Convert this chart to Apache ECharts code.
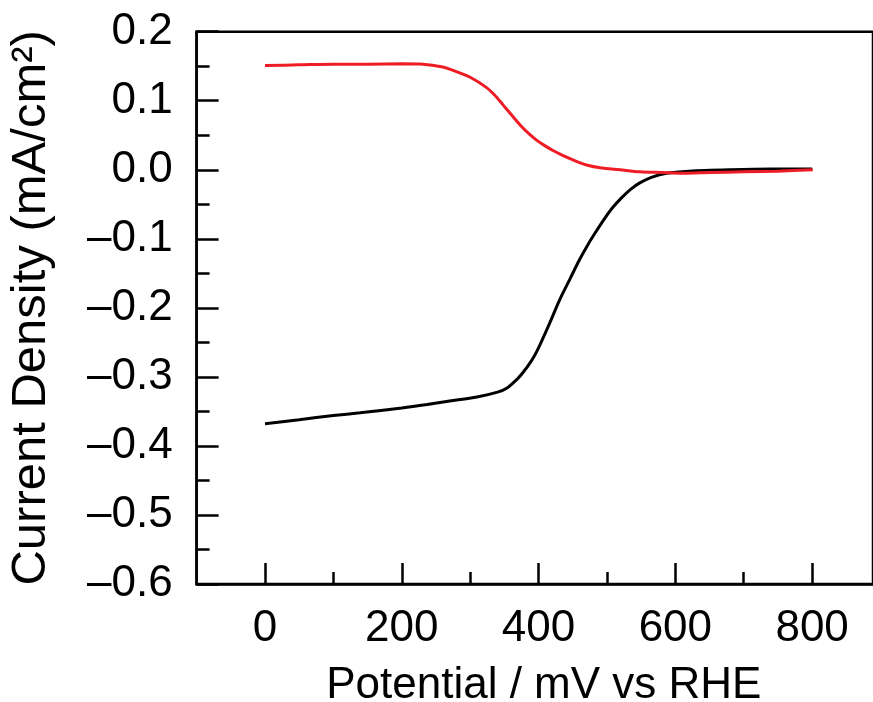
<!DOCTYPE html>
<html>
<head>
<meta charset="utf-8">
<script src="https://cdn.jsdelivr.net/npm/echarts@6/dist/echarts.min.js"></script>
<style>
  html, body { margin: 0; padding: 0; background: #fff; }
  #chart { width: 873px; height: 702px; }
</style>
</head>
<body>
<div id="chart"></div>
<script>
// Potential (mV vs RHE) and current density (mA/cm²) for the two sweeps
const potentialBlack = [0, 50, 100, 139, 200, 237, 270, 310, 340, 354, 368, 377, 390, 398, 415, 431, 446, 460, 473, 485, 497, 509, 522, 535, 548, 565, 587, 620, 680, 740, 800];
const currentBlack = [-0.368, -0.362, -0.356, -0.352, -0.345, -0.340, -0.335, -0.329, -0.322, -0.316, -0.304, -0.294, -0.276, -0.262, -0.225, -0.188, -0.158, -0.130, -0.107, -0.088, -0.070, -0.054, -0.040, -0.028, -0.019, -0.011, -0.005, -0.002, 0.000, 0.001, 0.001];

const potentialRed = [0, 50, 100, 150, 200, 231, 260, 275, 300, 324, 336, 348, 360, 373, 385, 397, 409, 421, 433, 446, 458, 470, 490, 519, 548, 580, 611, 650, 700, 750, 801];
const currentRed = [0.151, 0.152, 0.153, 0.153, 0.1535, 0.153, 0.149, 0.144, 0.134, 0.119, 0.108, 0.094, 0.080, 0.065, 0.053, 0.043, 0.035, 0.028, 0.022, 0.016, 0.011, 0.007, 0.003, 0.000, -0.003, -0.004, -0.005, -0.004, -0.003, -0.002, 0.000];

// Axis ticks
const xMajorTicks = [0, 200, 400, 600, 800];
const xMinorTicks = [100, 300, 500, 700];

const xAxisTitle = 'Potential / mV vs RHE';
const yAxisTitle = 'Current Density (mA/cm²)';

const pairs = (xs, ys) => xs.map((x, i) => [x, ys[i]]);
const font = 'Liberation Sans, Arial, Helvetica, sans-serif';
const xMin = -100, xMax = 889;

const chart = echarts.init(document.getElementById('chart'), null, { renderer: 'canvas' });

chart.setOption({
  backgroundColor: '#ffffff',
  animation: false,
  grid: {
    left: 196.6, top: 31.7, bottom: 118, right: 0,
    outerBoundsMode: 'none', containLabel: false,
    show: true, borderColor: '#000', borderWidth: 2.5, backgroundColor: 'transparent'
  },
  xAxis: [
    {
      type: 'value', min: xMin, max: xMax, interval: 100, position: 'bottom',
      axisLine: { show: true, onZero: false, lineStyle: { color: '#000', width: 2.5 } },
      axisTick: { show: true, inside: true, length: 21, customValues: xMajorTicks, lineStyle: { color: '#000', width: 2.5 } },
      axisLabel: { show: true, customValues: xMajorTicks, margin: 23, color: '#000', fontSize: 44, fontFamily: font },
      splitLine: { show: false },
      name: xAxisTitle, nameLocation: 'middle', nameGap: 80,
      nameTextStyle: { color: '#000', fontSize: 44, fontFamily: font, padding: [0, 0, 0, 18] }
    },
    {
      type: 'value', min: xMin, max: xMax, interval: 100, position: 'bottom', offset: 0,
      axisLine: { show: false, onZero: false },
      axisTick: { show: true, inside: true, length: 12, customValues: xMinorTicks, lineStyle: { color: '#000', width: 2.5 } },
      axisLabel: { show: false },
      splitLine: { show: false }
    }
  ],
  yAxis: {
    type: 'value', min: -0.6, max: 0.2, interval: 0.1,
    axisLine: { show: true, onZero: false, lineStyle: { color: '#000', width: 2.5 } },
    axisTick: { show: true, inside: true, length: 22, lineStyle: { color: '#000', width: 2.5 } },
    minorTick: { show: true, splitNumber: 2, length: 13, lineStyle: { color: '#000', width: 2.5 } },
    axisLabel: {
      margin: 24, color: '#000', fontSize: 44, fontFamily: font,
      formatter: v => {
        const s = Math.abs(v).toFixed(1);
        return (v < -1e-9 ? '\u2013' : '') + s;
      }
    },
    splitLine: { show: false },
    name: yAxisTitle, nameLocation: 'middle', nameGap: 141,
    nameTextStyle: { color: '#000', fontSize: 49, fontFamily: font }
  },
  series: [
    {
      type: 'line', name: 'cathodic', data: pairs(potentialBlack, currentBlack),
      showSymbol: false, smooth: 0.3, lineStyle: { color: '#000', width: 3 }, z: 3
    },
    {
      type: 'line', name: 'anodic', data: pairs(potentialRed, currentRed),
      showSymbol: false, smooth: 0.3, lineStyle: { color: '#ee1d25', width: 3 }, z: 4
    }
  ]
});
</script>
</body>
</html>
